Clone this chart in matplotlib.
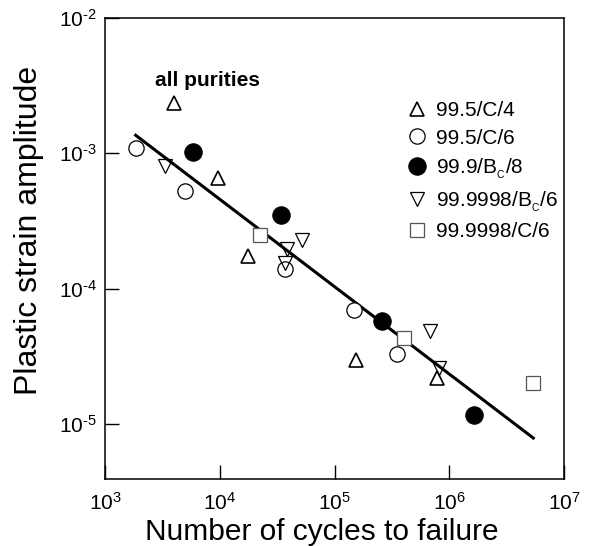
import matplotlib
matplotlib.use("Agg")
import matplotlib.pyplot as plt
import numpy as np

plt.rcParams["font.family"] = ["Liberation Sans", "DejaVu Sans"]
plt.rcParams["mathtext.fontset"] = "custom"
plt.rcParams["mathtext.rm"] = "Liberation Sans"
plt.rcParams["mathtext.it"] = "Liberation Sans:italic"
plt.rcParams["mathtext.bf"] = "Liberation Sans:bold"

# data (cycles to failure, plastic strain amplitude)
n_995_c4 = [3990, 9700, 1.77e4, 1.53e5, 7.87e5]
e_995_c4 = [2.37e-3, 6.53e-4, 1.74e-4, 2.98e-5, 2.19e-5]

n_995_c6 = [1850, 4980, 3.72e4, 1.49e5, 3.53e5]
e_995_c6 = [1.09e-3, 5.26e-4, 1.40e-4, 7.0e-5, 3.3e-5]

n_999_bc8 = [5810, 3.42e4, 2.58e5, 1.64e6]
e_999_bc8 = [1.03e-3, 3.50e-4, 5.73e-5, 1.16e-5]

n_9999_bc6 = [3360, 5.21e4, 3.83e4, 3.72e4, 6.84e5, 8.15e5]
e_9999_bc6 = [8.06e-4, 2.29e-4, 1.95e-4, 1.55e-4, 4.83e-5, 2.59e-5]

n_9999_c6 = [2.24e4, 4.04e5, 5.33e6]
e_9999_c6 = [2.51e-4, 4.32e-5, 2.0e-5]

fit_n = [1850, 5.4e6]
fit_e = [1.36e-3, 7.87e-6]

xticks = [1e3, 1e4, 1e5, 1e6, 1e7]
xlabels = [r"$\mathregular{10^{3}}$", r"$\mathregular{10^{4}}$", r"$\mathregular{10^{5}}$",
           r"$\mathregular{10^{6}}$", r"$\mathregular{10^{7}}$"]
yticks = [1e-5, 1e-4, 1e-3, 1e-2]
# short hyphen (U+2010) instead of the long math minus
ylabels = ["$\\mathregular{10^{\u20105}}$", "$\\mathregular{10^{\u20104}}$",
           "$\\mathregular{10^{\u20103}}$", "$\\mathregular{10^{\u20102}}$"]

fig = plt.figure(figsize=(5.94, 5.46), dpi=100)
ax = fig.add_axes([0.1768, 0.1227, 0.7727, 0.8443])

ax.plot(fit_n, fit_e, color="black", lw=2.2, zorder=1)

ax.plot(n_995_c4, e_995_c4, "^", ms=10, mfc="white", mec="black", mew=1.2,
        ls="none", label="99.5/C/4", zorder=3)
ax.plot(n_995_c6, e_995_c6, "o", ms=11, mfc="white", mec="black", mew=0.9,
        ls="none", label="99.5/C/6", zorder=3)
ax.plot(n_999_bc8, e_999_bc8, "o", ms=12.5, mfc="black", mec="black", mew=0.8,
        ls="none", label=r"99.9/B$_{{}_\mathregular{C}}$/8", zorder=3)
ax.plot(n_9999_bc6, e_9999_bc6, "v", ms=10, mfc="none", mec="black", mew=0.9,
        ls="none", label=r"99.9998/B$_{{}_\mathregular{C}}$/6", zorder=3)
ax.plot(n_9999_c6, e_9999_c6, "s", ms=9.5, mfc="white", mec="#555555", mew=0.9,
        ls="none", label="99.9998/C/6", zorder=2)

ax.set_xscale("log")
ax.set_yscale("log")
ax.set_xlim(1e3, 1e7)
ax.set_ylim(10 ** -5.407, 1e-2)

ax.set_xticks(xticks)
ax.set_xticklabels(xlabels)
ax.set_yticks(yticks)
ax.set_yticklabels(ylabels)
ax.minorticks_off()
ax.tick_params(direction="in", length=10, width=1, labelsize=15)
ax.tick_params(axis="x", pad=9)
ax.tick_params(axis="y", pad=6)

for s in ax.spines.values():
    s.set_linewidth(1.1)

ax.set_xlabel("Number of cycles to failure", fontsize=21.5)
ax.xaxis.set_label_coords(0.473, -0.085)
ax.set_ylabel("Plastic strain amplitude", fontsize=23)
ax.yaxis.set_label_coords(-0.134, 0.54)

ax.text(0.108, 0.865, "all purities", transform=ax.transAxes, fontsize=15,
        fontweight="bold", ha="left", va="center")

ax.legend(loc="upper left", bbox_to_anchor=(0.658, 0.819), frameon=False,
          fontsize=15, handlelength=1.0, handletextpad=0.4, labelspacing=0.4,
          borderpad=0, borderaxespad=0)

fig.savefig("out.png", dpi=100)
